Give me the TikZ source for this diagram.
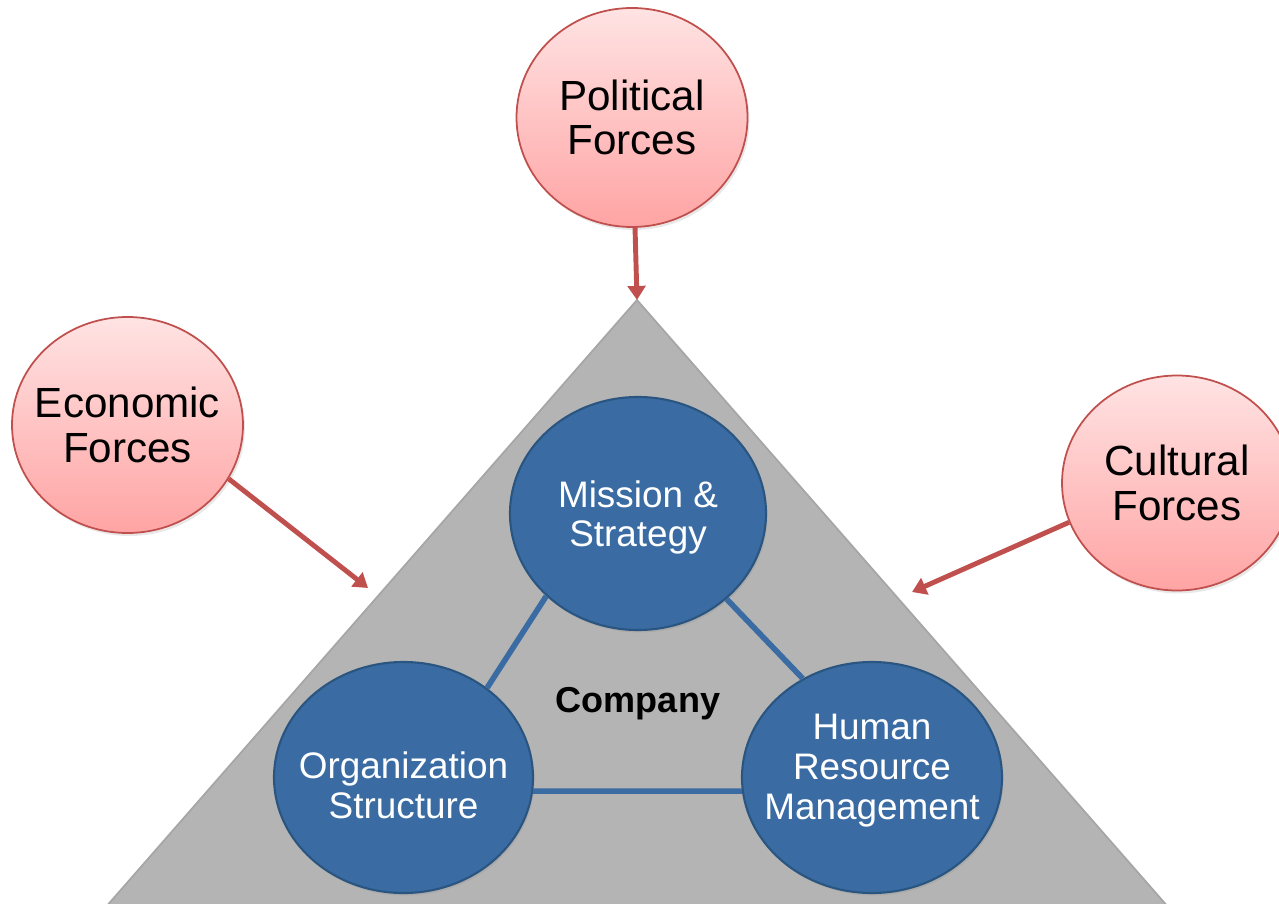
\documentclass[tikz,border=0pt]{standalone}
\usepackage{fontspec}
\setmainfont{Liberation Sans}
\usetikzlibrary{shapes.geometric,arrows.meta,shadows}

\definecolor{forcetop}{HTML}{FFE3E3}
\definecolor{forcebot}{HTML}{FFA4A4}
\definecolor{forceline}{HTML}{C0504D}
\definecolor{corefill}{HTML}{3A6CA3}
\definecolor{coreline}{HTML}{2A5580}
\definecolor{trifill}{HTML}{B4B4B4}

\tikzset{
  force/.style={draw=forceline, line width=1pt, ellipse, inner sep=0pt,
    top color=forcetop, bottom color=forcebot,
    drop shadow={opacity=0.18, shadow xshift=0.04cm, shadow yshift=-0.06cm},
    label={[align=center, font=\fontsize{24}{25.5}\selectfont]center:{#1}}},
  core/.style 2 args={draw=coreline, line width=1.2pt, ellipse, inner sep=0pt, fill=corefill,
    drop shadow={opacity=0.2, shadow xshift=0.03cm, shadow yshift=-0.05cm},
    label={[align=center, text=white, yshift=#2, font=\fontsize{21}{22.7}\selectfont]center:{#1}}},
  push/.style={draw=forceline, line width=2.8pt, -{Triangle[width=10pt,length=8pt]}},
  link/.style={draw=corefill, line width=3.2pt}
}

\begin{document}
\begin{tikzpicture}
        \useasboundingbox (0,0) rectangle (25.58,18.06);

        % Company triangle
        \coordinate (apex) at (12.74,12.06);
        \coordinate (ecotip) at (7.36,6.30);
        \coordinate (cultip) at (18.24,6.22);
        \draw[draw=black!35, fill=trifill, line width=1pt] (2.10,-0.1) -- (apex) -- (23.38,-0.1) -- cycle;

        % External forces
        \node[force={Political\\Forces}, minimum width=4.62cm, minimum height=4.38cm] (political) at (12.64,15.71) {};
        \node[force={Economic\\Forces}, minimum width=4.62cm, minimum height=4.32cm] (economic) at (2.55,9.56) {};
        \node[force={Cultural\\Forces}, minimum width=4.60cm, minimum height=4.30cm] (cultural) at (23.54,8.40) {};

        % Inside the company
        \node[core={Mission \&\\Strategy}{-0.08cm}, minimum width=5.12cm, minimum height=4.66cm] (mission) at (12.76,7.79) {};
        \node[core={Organization\\Structure}{-0.16cm}, minimum width=5.18cm, minimum height=4.62cm] (org) at (8.07,2.51) {};
        \node[core={Human\\Resource\\Management}{0.14cm}, minimum width=5.20cm, minimum height=4.62cm] (hr) at (17.44,2.51) {};
        \node[font=\fontsize{20.5}{22}\selectfont\bfseries] (company) at (12.76,3.98) {Company};

        % Links between the parts
        \draw[link] (mission.222) -- (org.47);
        \draw[link] (mission.316) -- (hr.125);
        \draw[link] (org.-6) -- (hr.186);

        % Forces acting on the company
        \draw[push] (political) -- (apex);
        \draw[push] (economic.-28) -- (ecotip);
        \draw[push] (cultural.200) -- (cultip);
      \end{tikzpicture}
\end{document}
